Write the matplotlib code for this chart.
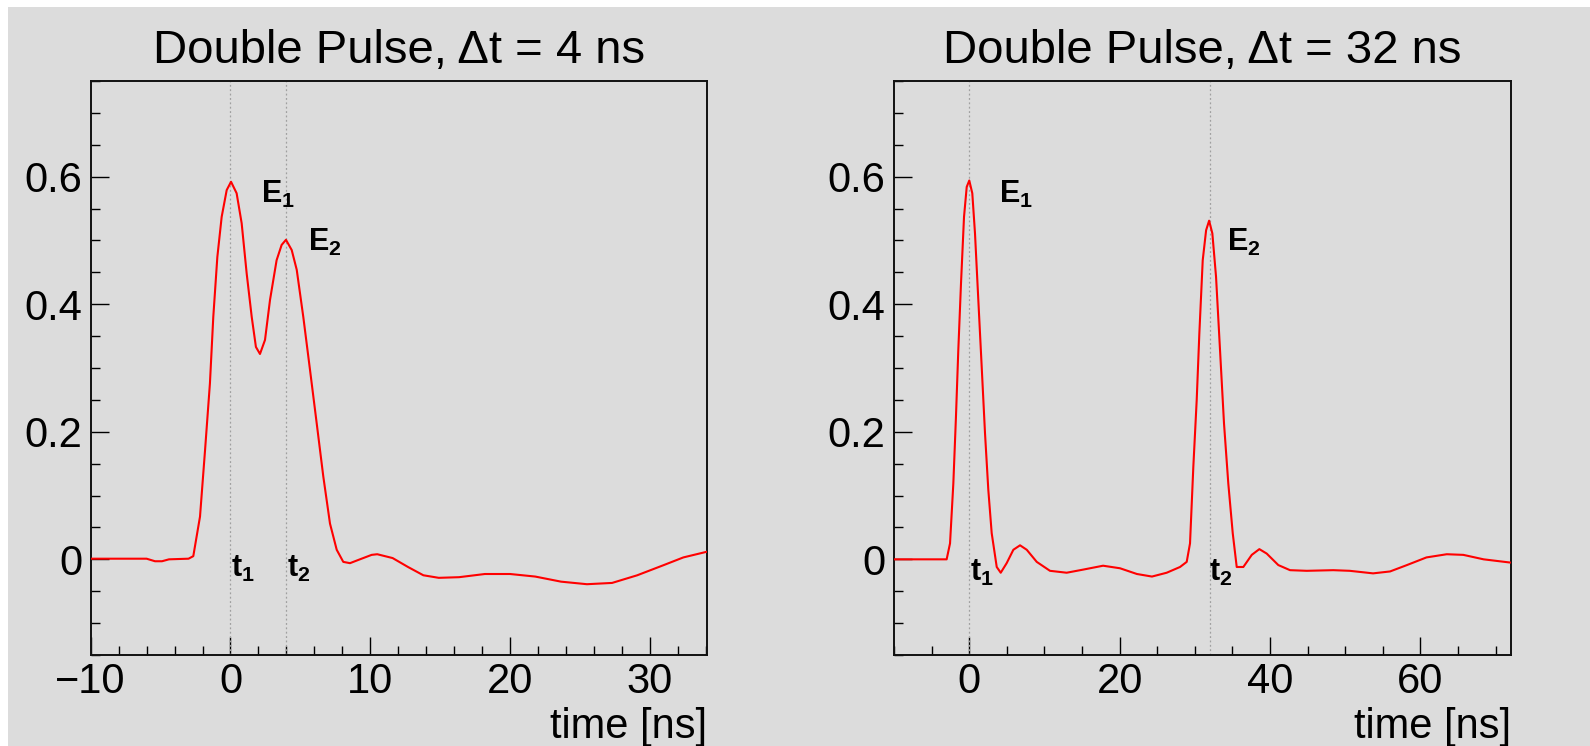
import matplotlib
matplotlib.use("Agg")
import matplotlib.pyplot as plt
from matplotlib.ticker import MultipleLocator, FuncFormatter
from matplotlib.patches import Rectangle

plt.rcParams['font.family'] = ['Liberation Sans', 'DejaVu Sans']
plt.rcParams['mathtext.fontset'] = 'custom'
plt.rcParams['mathtext.rm'] = 'Liberation Sans'
plt.rcParams['mathtext.bf'] = 'Liberation Sans:bold'

# ---- data ----
titles = ["Double Pulse, \u0394t = 4 ns", "Double Pulse, \u0394t = 32 ns"]
xlabel = "time [ns]"

t_left = [-10, -6.0, -5.4, -4.9, -4.4, -3.0, -2.66, -2.18, -1.82, -1.47, -1.23, -0.94, -0.63, -0.27,
          0.04, 0.44, 0.80, 1.16, 1.52, 1.82, 2.11, 2.47, 2.83, 3.30, 3.66, 3.97, 4.38, 4.74, 5.21,
          5.69, 6.17, 6.64, 7.12, 7.60, 8.07, 8.55, 9.26, 10.1, 10.5, 11.6, 12.7, 13.8, 14.9, 16.35,
          18.2, 20.0, 21.8, 23.65, 25.5, 27.3, 29.1, 31.0, 32.4, 34.1]
v_left = [0.001, 0.001, -0.003, -0.003, 0.0, 0.001, 0.005, 0.067, 0.171, 0.276, 0.380, 0.474, 0.537, 0.579,
          0.592, 0.574, 0.527, 0.448, 0.380, 0.333, 0.322, 0.344, 0.407, 0.469, 0.493, 0.501, 0.485, 0.454, 0.380,
          0.297, 0.213, 0.130, 0.056, 0.015, -0.004, -0.006, 0.000, 0.007, 0.008, 0.002, -0.012, -0.025, -0.029, -0.028,
          -0.023, -0.023, -0.027, -0.035, -0.039, -0.037, -0.025, -0.009, 0.003, 0.012]

t_right = [-10, -3.0, -2.55, -2.11, -1.76, -1.45, -1.09, -0.69, -0.33, 0.01, 0.41, 0.77, 1.21, 1.66, 2.10,
           2.54, 2.99, 3.66, 4.19, 4.98, 5.87, 6.76, 7.65, 8.98, 10.74, 12.96, 15.2, 17.8, 20.05, 22.3,
           24.3, 26.26, 28.03, 28.92, 29.36, 29.8, 30.25, 30.6, 31.05, 31.5, 31.9, 32.33, 32.82, 33.35,
           33.88, 34.45, 35.04, 35.57, 36.45, 37.57, 38.58, 39.56, 41.1, 42.66, 44.88, 48.4, 50.6, 53.7,
           55.96, 58.2, 60.8, 63.5, 65.7, 68.4, 71.9]
v_right = [0.0, 0.0, 0.025, 0.119, 0.224, 0.328, 0.433, 0.537, 0.584, 0.594, 0.574, 0.511, 0.407, 0.302, 0.198,
           0.109, 0.041, -0.012, -0.021, -0.006, 0.015, 0.022, 0.015, -0.004, -0.018, -0.021, -0.016, -0.010, -0.014, -0.023,
           -0.027, -0.021, -0.012, -0.004, 0.025, 0.145, 0.250, 0.354, 0.469, 0.516, 0.531, 0.511, 0.443, 0.328,
           0.213, 0.119, 0.041, -0.012, -0.012, 0.007, 0.016, 0.009, -0.009, -0.017, -0.018, -0.017, -0.018, -0.022,
           -0.019, -0.009, 0.003, 0.008, 0.007, 0.000, -0.005]

pulse_times = [[0, 4], [0, 32]]
xlims = [(-10, 34.07), (-10, 72)]
ylim = (-0.15, 0.75)
x_major = [10, 20]
x_minor = [2, 5]

# label positions (data coords): E1, E2, t1, t2
E_pos = [[(2.2, 0.559), (5.55, 0.483)], [(3.9, 0.559), (34.3, 0.483)]]
T_pos = [[(0.05, -0.028), (4.05, -0.028)], [(0.15, -0.034), (31.95, -0.034)]]

BG = '#dcdcdc'

fig = plt.figure(figsize=(15.9, 7.46), dpi=100, facecolor=BG)
W, H = 1590, 746
# white strips at top and left
fig.patches.append(Rectangle((0, 1 - 7 / H), 1, 7 / H, transform=fig.transFigure,
                             facecolor='white', edgecolor='none', zorder=-10))
fig.patches.append(Rectangle((0, 0), 8 / W, 1, transform=fig.transFigure,
                             facecolor='white', edgecolor='none', zorder=-10))

axes_px = [(90.7, 706.7), (894.0, 1510.7)]
ybot, ytop = 655.0, 81.0

datasets = [(t_left, v_left), (t_right, v_right)]

for i in range(2):
    x0, x1 = axes_px[i]
    ax = fig.add_axes([x0 / W, (H - ybot) / H, (x1 - x0) / W, (ybot - ytop) / H])
    ax.set_facecolor('none')
    t, v = datasets[i]
    ax.plot(t, v, color='#ff0000', lw=1.5, zorder=3)
    for pt in pulse_times[i]:
        ax.axvline(pt, color='#a0a0a0', lw=0.9, ls=(0, (1.5, 2)), zorder=2)
    ax.set_xlim(*xlims[i])
    ax.set_ylim(*ylim)
    ax.xaxis.set_major_locator(MultipleLocator(x_major[i]))
    ax.xaxis.set_minor_locator(MultipleLocator(x_minor[i]))
    ax.yaxis.set_major_locator(MultipleLocator(0.2))
    ax.yaxis.set_minor_locator(MultipleLocator(0.05))
    ax.yaxis.set_major_formatter(FuncFormatter(lambda val, p: '%g' % round(val, 2)))
    ax.xaxis.set_major_formatter(FuncFormatter(lambda val, p: ('%g' % val).replace('-', '\u2212')))
    ax.tick_params(which='both', direction='in', top=False, right=False, colors='black',
                   labelsize=30, width=1.0)
    ax.tick_params(which='major', length=13)
    ax.tick_params(which='minor', length=6.5)
    ax.tick_params(axis='x', pad=5)
    ax.tick_params(axis='y', pad=6)
    for s in ax.spines.values():
        s.set_linewidth(1.4)
        s.set_color('#111111')
    ax.text(0.5, 1.031, titles[i], transform=ax.transAxes, ha='center', va='baseline',
            fontsize=34)
    ax.text(1.0, -0.145, xlabel, transform=ax.transAxes, ha='right', va='baseline',
            fontsize=30)
    for k, (px, py) in enumerate(E_pos[i]):
        ax.text(px, py, r'$\mathbf{E}_{\mathbf{%d}}$' % (k + 1), ha='left', va='baseline',
                fontsize=22, zorder=4)
    for k, (px, py) in enumerate(T_pos[i]):
        ax.text(px, py, r'$\mathbf{t}_{\mathbf{%d}}$' % (k + 1), ha='left', va='baseline',
                fontsize=22, zorder=4)

fig.savefig('out.png', dpi=100, facecolor=BG)
